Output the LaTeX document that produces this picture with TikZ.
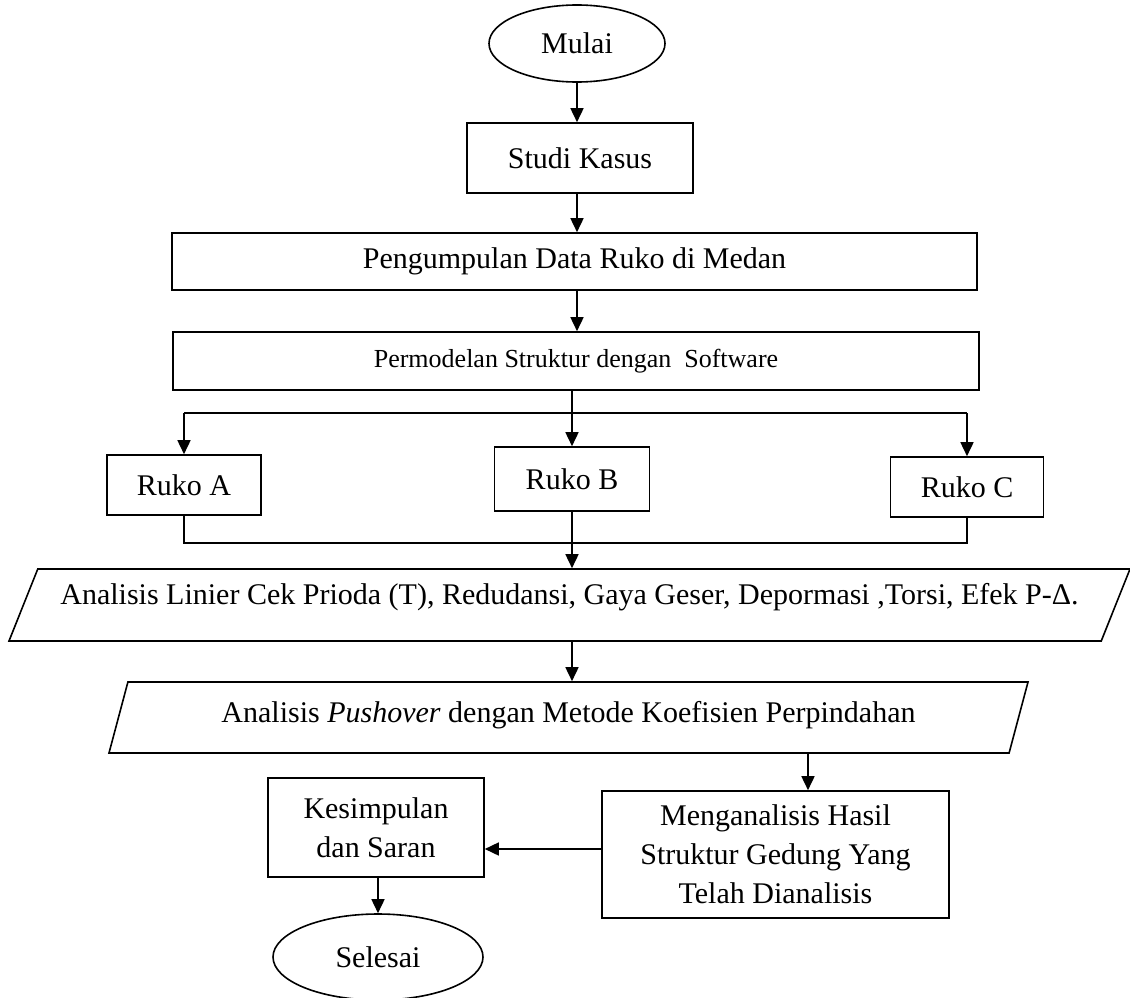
\documentclass[tikz,border=0pt]{standalone}
\usepackage{fontspec}
\setmainfont{Liberation Serif}
\usetikzlibrary{arrows.meta,shapes.geometric}
\tikzset{
  alur/.style={line width=1.6pt},
  panah/.style={alur,-{Triangle[length=14pt,width=13pt]}},
  proses/.style={draw,alur,rectangle,align=center,inner sep=2pt},
  terminal/.style={draw,alur,ellipse,inner sep=1pt},
  masukan/.style={draw,alur,trapezium,trapezium stretches body,inner sep=2pt},
}

\begin{document}
\begin{tikzpicture}[x=1pt,y=-1pt,font=\fontsize{30}{39}\selectfont]
  \useasboundingbox (0,0) rectangle (1130,998);
  % alur utama
  \node[terminal,minimum width=176pt,minimum height=77pt] (mulai) at (577,43.5) {Mulai};
  \node[proses,minimum width=226pt,minimum height=70pt] (studi) at (580,158) {Studi Kasus};
  \node[proses,minimum width=805pt,minimum height=57pt] (kumpul) at (574.5,261.5) {Pengumpulan Data Ruko di Medan};
  \node[proses,minimum width=806pt,minimum height=58pt,font=\fontsize{26}{31}\selectfont] (model) at (576,361) {Permodelan Struktur dengan\ \ Software};
  \node[proses,minimum width=154pt,minimum height=60pt] (rukoA) at (184,485) {Ruko A};
  \node[proses,minimum width=155pt,minimum height=64pt] (rukoB) at (572,479) {Ruko B};
  \node[proses,minimum width=153pt,minimum height=60pt] (rukoC) at (967,487) {Ruko C};
  \node[masukan,trapezium left angle=58.6,trapezium right angle=121.4,
    minimum width=1121pt,minimum height=72pt,text depth=22pt] (linier) at (569.5,605)
    {Analisis Linier Cek Prioda (T), Redudansi, Gaya Geser, Depormasi ,Torsi, Efek P-Δ.};
  \node[masukan,trapezium left angle=63,trapezium right angle=117,
    minimum width=919pt,minimum height=71pt,text depth=12pt] (pushover) at (568.5,717.5)
    {Analisis \textit{Pushover} dengan Metode Koefisien Perpindahan};
  \node[proses,minimum width=347pt,minimum height=127pt] (analisa) at (775.5,854.5)
    {Menganalisis Hasil\\Struktur Gedung Yang\\Telah Dianalisis};
  \node[proses,minimum width=216pt,minimum height=99pt] (simpul) at (376,827.5)
    {Kesimpulan\\dan Saran};
  \node[terminal,minimum width=210pt,minimum height=86pt] (selesai) at (378,957) {Selesai};

  \coordinate (cabang) at (572,413);
  \coordinate (gabung) at (572,543);

  % panah
  \draw[panah] (mulai.south) -- (studi.north -| mulai.south);
  \draw[panah] (studi.south -| mulai) -- (kumpul.north -| mulai);
  \draw[panah] (kumpul.south -| mulai) -- (model.north -| mulai);
  \draw[panah] (model.south -| rukoB) -- (rukoB.north);
  \draw[alur] (rukoA.north |- cabang) -- (rukoC.north |- cabang);
  \draw[panah] (rukoA.north |- cabang) -- (rukoA.north);
  \draw[panah] (rukoC.north |- cabang) -- (rukoC.north);
  \draw[alur] (rukoA.south) -- (rukoA.south |- gabung) -- (rukoC.south |- gabung) -- (rukoC.south);
  \draw[panah] (rukoB.south) -- (linier.north -| rukoB);
  \draw[panah] (linier.south -| rukoB) -- (pushover.north -| rukoB);
  \draw[panah] ([xshift=32.5pt]analisa.north |- pushover.south) -- ([xshift=32.5pt]analisa.north);
  \coordinate (balik) at ([yshift=5.5pt]analisa.west);
  \draw[panah] (balik) -- (balik -| simpul.east);
  \draw[panah] (simpul.south -| selesai) -- (selesai);
\end{tikzpicture}
\end{document}
